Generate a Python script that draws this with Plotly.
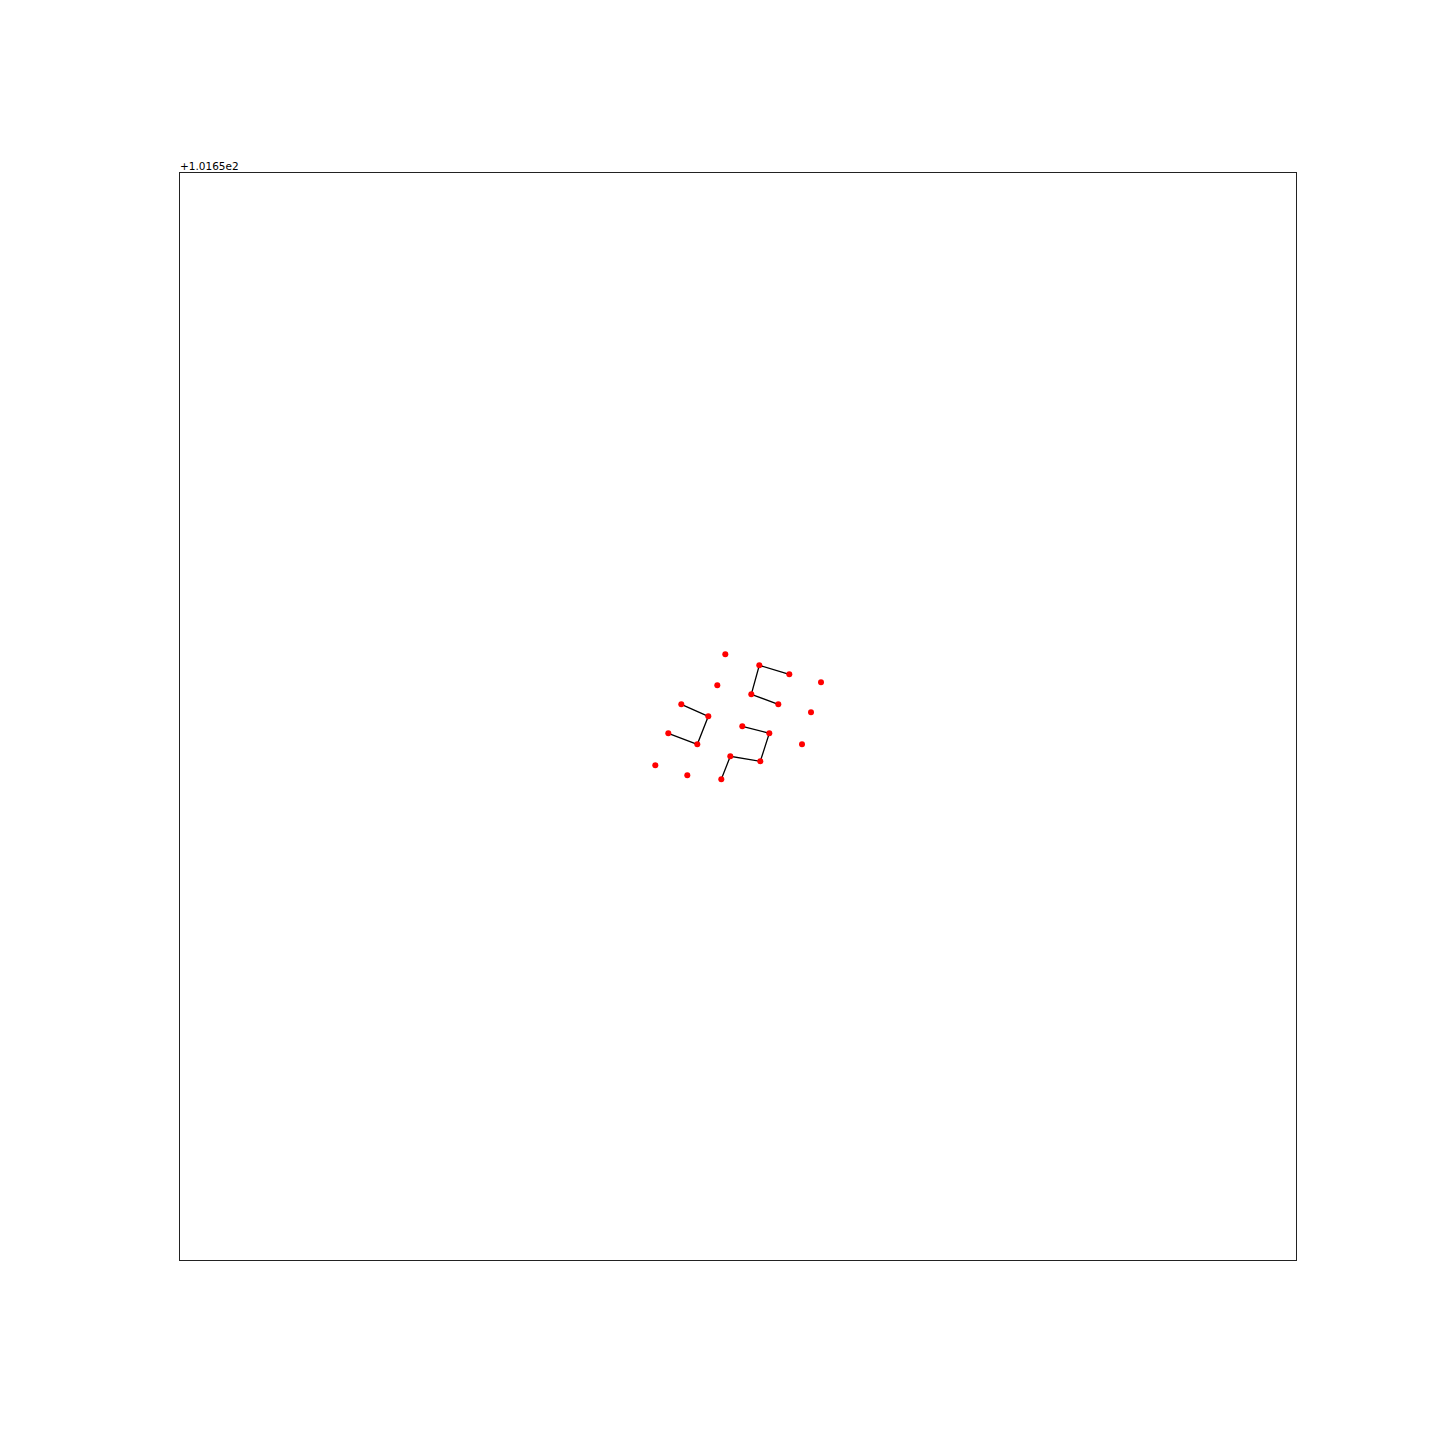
import plotly.graph_objects as go

# point coordinates (axis units)
pt_x = [545.3, 579.3, 609.3, 641.0, 537.3, 571.3, 598.3, 631.0, 501.3, 528.3,
        562.3, 589.3, 488.3, 517.3, 622.0, 550.3, 580.3, 475.3, 507.3, 541.3]
pt_y = [605.7, 594.7, 585.7, 577.7, 574.7, 565.7, 555.7, 547.7, 555.7, 543.7,
        533.7, 526.7, 526.7, 515.7, 515.7, 503.7, 498.7, 494.7, 484.7, 480.7]

# polylines connecting points (indices)
paths = [
    [2, 1, 5, 6],
    [8, 9, 13, 12],
    [10, 11, 16, 15, 19],
]

fig = go.Figure()
for p in paths:
    fig.add_trace(go.Scatter(
        x=[pt_x[i] for i in p], y=[pt_y[i] for i in p],
        mode="lines", line=dict(color="black", width=1.3),
        hoverinfo="skip", showlegend=False))

fig.add_trace(go.Scatter(
    x=pt_x, y=pt_y, mode="markers",
    marker=dict(color="red", size=6, line=dict(width=0)),
    showlegend=False))

fig.update_layout(
    width=1440, height=1440,
    margin=dict(l=180, r=144, t=173, b=180),
    plot_bgcolor="white", paper_bgcolor="white",
    font=dict(family="DejaVu Sans", size=12, color="black"),
)
fig.update_xaxes(range=[0, 1116], showgrid=False, zeroline=False,
                 showticklabels=False, ticks="", showline=True, mirror=True,
                 linecolor="#222", linewidth=1)
fig.update_yaxes(range=[0, 1087], showgrid=False, zeroline=False,
                 showticklabels=False, ticks="", showline=True, mirror=True,
                 linecolor="#222", linewidth=1)

fig.add_annotation(text="+1.0165e2", xref="paper", yref="paper", x=0, y=1,
                   xanchor="left", yanchor="bottom", showarrow=False,
                   yshift=-1, xshift=-2,
                   font=dict(family="DejaVu Sans", size=10.5, color="black"))

fig.write_html("out.html")
